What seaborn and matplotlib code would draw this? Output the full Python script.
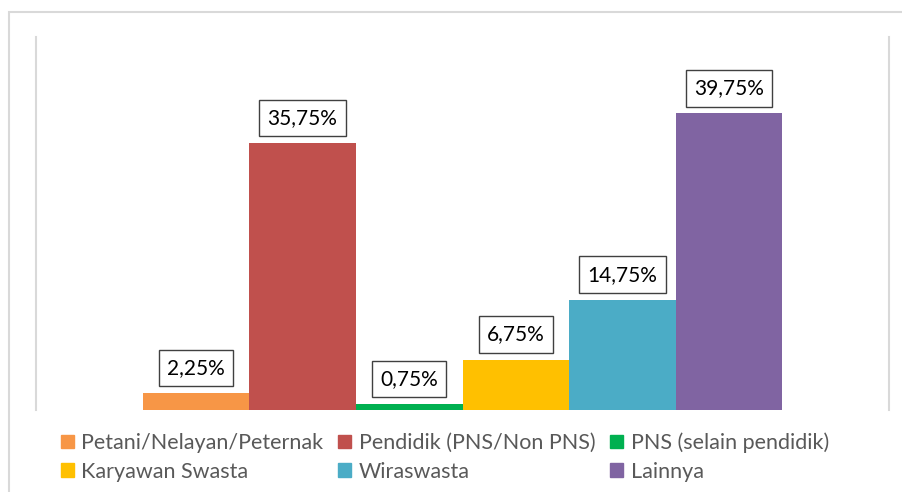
import seaborn as sns
import matplotlib.pyplot as plt
import pandas as pd
from matplotlib.patches import Rectangle

pekerjaan = ["Petani/Nelayan/Peternak", "Pendidik (PNS/Non PNS)", "PNS (selain pendidik)",
             "Karyawan Swasta", "Wiraswasta", "Lainnya"]
persen = [2.25, 35.75, 0.75, 6.75, 14.75, 39.75]
warna = ["#F79646", "#C0504D", "#00B050", "#FFC000", "#4BACC6", "#8064A2"]

df = pd.DataFrame({"kategori": [""] * len(pekerjaan), "pekerjaan": pekerjaan, "persen": persen})

sns.set_theme(style="white")
plt.rcParams['font.family'] = ['Lato', 'DejaVu Sans']

fig = plt.figure(figsize=(9.03, 4.92), dpi=100)
ax = fig.add_axes([36/903, 1 - 410/492, (889-36)/903, (410-37)/492])

sns.barplot(data=df, x="kategori", y="persen", hue="pekerjaan", hue_order=pekerjaan,
            palette=warna, width=0.75, dodge=True, saturation=1, legend=False, ax=ax)

ax.set_xlim(-0.5, 0.5)
ax.set_ylim(0, 50)
ax.set_xticks([])
ax.set_yticks([])
ax.set_xlabel("")
ax.set_ylabel("")
for s in ["top", "bottom"]:
    ax.spines[s].set_visible(False)
for s in ["left", "right"]:
    ax.spines[s].set_color("#d9d9d9")
    ax.spines[s].set_linewidth(1.5)

for cont in ax.containers:
    for bar in cont:
        bar.set_edgecolor("none")
    ax.bar_label(cont, labels=[f"{v:.2f}%".replace(".", ",") for v in cont.datavalues],
                 padding=11, fontsize=15, color="black",
                 bbox=dict(boxstyle="square,pad=0.4", fc="white", ec="#404040", lw=1))

# legenda 3 kolom, 2 baris
handles = [Rectangle((0, 0), 1, 1, color=c) for c in warna]
order = [0, 3, 1, 4, 2, 5]
fig.legend([handles[i] for i in order], [pekerjaan[i] for i in order], ncol=3,
           loc="upper left", bbox_to_anchor=(52/903, 1 - 424/492), frameon=False,
           fontsize=15.5, labelcolor="#595959", handlelength=0.6, handleheight=0.6,
           handletextpad=0.35, columnspacing=0.7, labelspacing=0.4, borderaxespad=0)

# bingkai luar
fig.patches.append(Rectangle((9/903, -0.5), 1.5, 0.5 + (492-12)/492, transform=fig.transFigure,
                             fill=False, ec="#d9d9d9", lw=1.5))

fig.savefig("out.png", dpi=100)
